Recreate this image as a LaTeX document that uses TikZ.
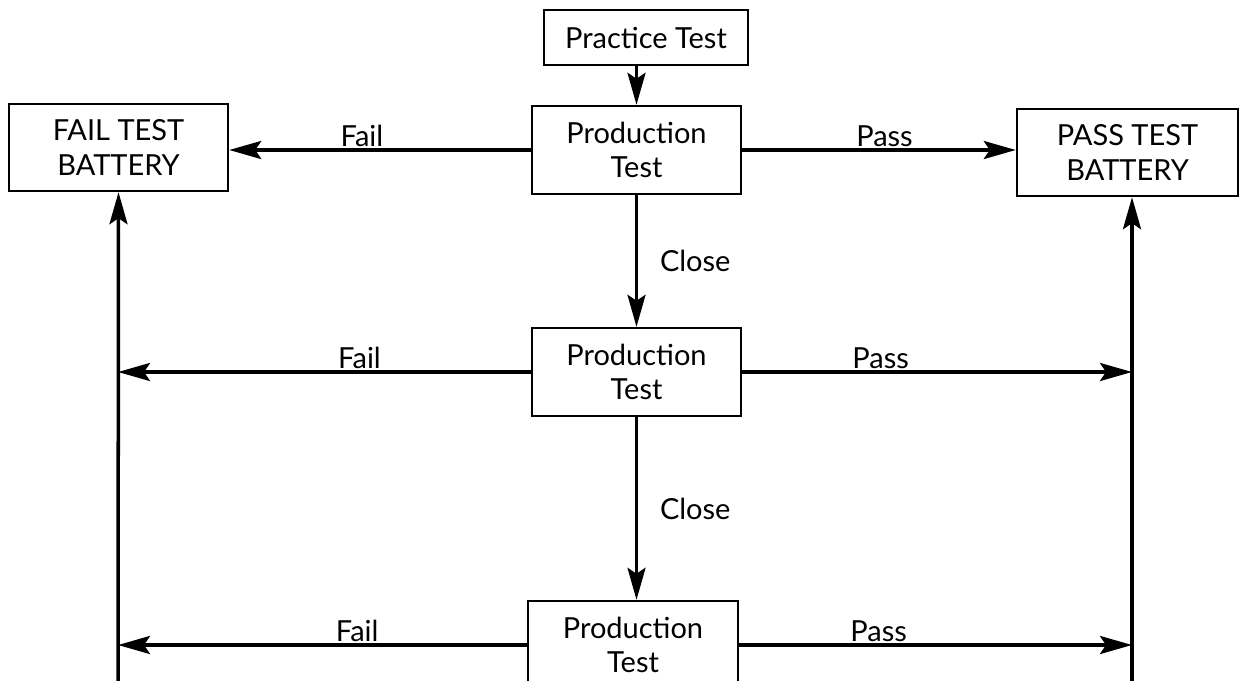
\documentclass[tikz,border=0pt]{standalone}
\usepackage{fontspec}
\setmainfont{Lato}
\usetikzlibrary{arrows.meta}

\begin{document}
\begin{tikzpicture}[x=0.02cm,y=-0.02cm]
	\tikzstyle{box}=[rectangle,draw=black,line width=1.4pt,align=center,inner sep=2pt,
		font=\fontsize{16.5}{19.5}\selectfont,minimum height=1.76cm]
	\tikzstyle{arr}=[line width=2pt,-{Stealth[length=0.64cm,width=0.36cm,inset=0.12cm]}]
	\tikzstyle{lbl}=[font=\fontsize{16.5}{19.5}\selectfont,inner sep=1pt]
	\useasboundingbox (0,0) rectangle (1239,680);
	\clip (0,0) rectangle (1239,680);
	\node[box,minimum width=4.08cm,minimum height=1.1cm] (practice) at (646,37.5) {Practice Test};
	\node[box,minimum width=4.18cm] (prod1) at (636.5,150) {Production\\Test};
	\node[box,minimum width=4.18cm] (prod2) at (636.5,372) {Production\\Test};
	\node[box,minimum width=4.2cm] (prod3) at (633,645) {Production\\Test};
	\node[box,minimum width=4.38cm,minimum height=1.74cm] (fail) at (118.5,147.5) {FAIL TEST\\BATTERY};
	\node[box,minimum width=4.42cm,minimum height=1.74cm] (pass) at (1127.5,152.5) {PASS TEST\\BATTERY};
	\coordinate (lbot) at (118,700);
	\coordinate (rbot) at (1132,700);
	% downward chain
	\draw[arr] (prod1.north |- practice.south) -- (prod1.north);
	\draw[arr] (prod1.south) -- node[lbl,right,xshift=0.4cm] {Close} (prod2.north);
	\draw[arr] (prod2.south) -- node[lbl,right,xshift=0.4cm] {Close} (prod2.south |- prod3.north);
	% first row
	\draw[arr] (prod1.west) -- node[lbl,above,pos=0.56] {Fail} (prod1.west -| fail.east);
	\draw[arr] (prod1.east) -- node[lbl,above,pos=0.52] {Pass} (prod1.east -| pass.west);
	% second and third rows
	\draw[arr] (prod2.west) -- node[lbl,above,pos=0.415] {Fail} (prod2.west -| lbot);
	\draw[arr] (prod2.east) -- node[lbl,above,pos=0.355] {Pass} (prod2.east -| rbot);
	\draw[arr] (prod3.west) -- node[lbl,above,pos=0.415] {Fail} (prod3.west -| lbot);
	\draw[arr] (prod3.east) -- node[lbl,above,pos=0.355] {Pass} (prod3.east -| rbot);
	% side collectors
	\draw[arr] (lbot) -- (fail.south);
	\draw[arr] (rbot) -- (rbot |- pass.south);
\end{tikzpicture}
\end{document}
